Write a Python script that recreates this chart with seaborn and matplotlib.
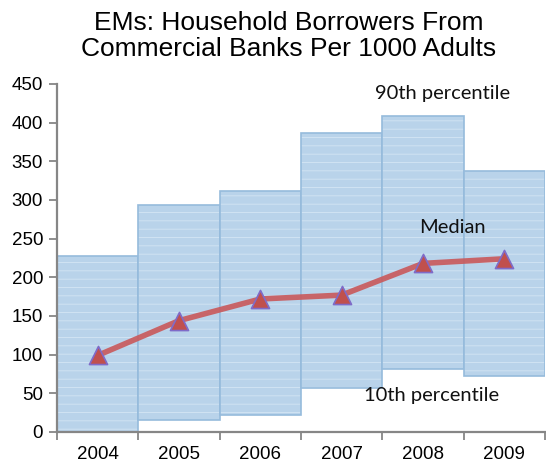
import matplotlib
matplotlib.use("Agg")
import matplotlib.pyplot as plt
import seaborn as sns
import numpy as np
import pandas as pd
from matplotlib.colors import to_rgba

years = ["2004", "2005", "2006", "2007", "2008", "2009"]
p10 = [0, 15, 22, 57, 82, 72]
p90 = [227, 293, 311, 386, 408, 337]
median = [99, 144, 172, 177, 218, 224]

sns.set_theme(style="white")
plt.rcParams["font.family"] = ["Liberation Sans", "DejaVu Sans"]
plt.rcParams["hatch.linewidth"] = 0.6

df = pd.DataFrame({"year": years, "low": p10, "high": p90, "median": median})
df["span"] = df["high"] - df["low"]

W, H = 546, 468
fig = plt.figure(figsize=(W / 100, H / 100), dpi=100)
ax = fig.add_axes([57 / W, 1 - 432 / H, 488 / W, 348 / H])

# floating 10th-90th percentile range bars
sns.barplot(data=df, x="year", y="span", bottom=df["low"].to_numpy(),
            order=years, width=1.0, color="#B9D3EA", saturation=1,
            edgecolor="#96BBDC", linewidth=1.2, ax=ax, zorder=2)
for patch in ax.patches:
    patch.set_hatch("--")
    if hasattr(patch, "set_hatchcolor"):
        patch.set_hatchcolor("#D4E5F4")
    else:
        patch._hatch_color = to_rgba("#D4E5F4")

# median line
pos = np.arange(len(years))
sns.lineplot(x=pos, y=df["median"], color="#C9585A", alpha=0.9, linewidth=4,
             ax=ax, zorder=4)
ax.scatter(pos, df["median"], marker="^", s=170, color="#C0504D",
           edgecolor="#7F6BC8", linewidth=1.2, zorder=5)

ax.set_xlim(-0.5, 5.5)
ax.set_ylim(0, 450)
ax.set_yticks(np.arange(0, 451, 50))
ax.set_xticks(pos)
ax.set_xticklabels(years)
ax.set_xlabel("")
ax.set_ylabel("")

# boundary tick marks between categories
ax.set_xticks(np.arange(-0.5, 5.6, 1.0), minor=True)
ax.tick_params(axis="x", which="major", length=0, labelsize=13.5, pad=10,
               colors="black")
ax.tick_params(axis="x", which="minor", length=6, width=1.3, color="#868686",
               direction="out", bottom=True)
ax.tick_params(axis="y", which="major", length=6, width=1.3, color="#868686",
               direction="out", left=True, labelsize=13.5, pad=4,
               labelcolor="black")

for side in ["top", "right"]:
    ax.spines[side].set_visible(False)
for side in ["left", "bottom"]:
    ax.spines[side].set_color("#868686")
    ax.spines[side].set_linewidth(1.6)
ax.spines["left"].set_zorder(6)

lbl = dict(fontsize=14.5, family=["Lato", "DejaVu Sans"], ha="center",
           va="center", color="#111111", zorder=7)
fig.text(443 / W, 1 - 93 / H, "90th percentile", **lbl)
fig.text(452 / W, 1 - 227 / H, "Median", **lbl)
fig.text(432 / W, 1 - 396 / H, "10th percentile", **lbl)

fig.text(289 / W, 1 - 36 / H, "EMs: Household Borrowers From\nCommercial Banks Per 1000 Adults",
         ha="center", va="center", fontsize=19, linespacing=1.15,
         color="black")

fig.savefig("out.png", dpi=100)
